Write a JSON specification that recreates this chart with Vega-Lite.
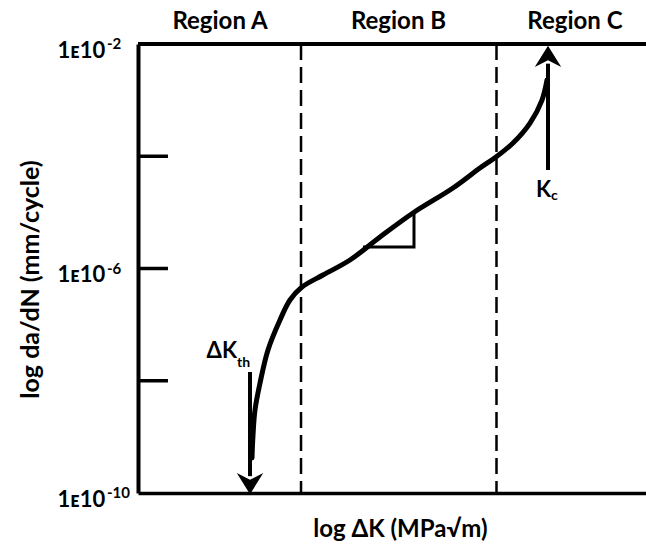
{
  "$schema": "https://vega.github.io/schema/vega-lite/v6.json",
  "width": 508,
  "height": 449,
  "autosize": "none",
  "padding": {"left": 138, "top": 44, "right": 0, "bottom": 51},
  "background": "white",
  "config": {"view": {"stroke": null}, "font": "Lato"},
  "datasets": {
    "curve": [
      {"logK": 2.244, "logRate": -9.376},
      {"logK": 2.264, "logRate": -8.967},
      {"logK": 2.303, "logRate": -8.521},
      {"logK": 2.402, "logRate": -8.040},
      {"logK": 2.559, "logRate": -7.452},
      {"logK": 2.795, "logRate": -6.918},
      {"logK": 2.992, "logRate": -6.561},
      {"logK": 3.228, "logRate": -6.330},
      {"logK": 3.642, "logRate": -6.116},
      {"logK": 4.173, "logRate": -5.849},
      {"logK": 4.764, "logRate": -5.439},
      {"logK": 5.413, "logRate": -5.011},
      {"logK": 6.201, "logRate": -4.566},
      {"logK": 6.732, "logRate": -4.209},
      {"logK": 7.047, "logRate": -4.013},
      {"logK": 7.382, "logRate": -3.764},
      {"logK": 7.717, "logRate": -3.408},
      {"logK": 7.953, "logRate": -2.998},
      {"logK": 8.051, "logRate": -2.641}
    ],
    "bounds": [{"logK": 3.209}, {"logK": 7.057}],
    "ticks": [{"logRate": -4}, {"logRate": -6}, {"logRate": -8}],
    "exponents": [
      {"logRate": -2, "sup": "-2"},
      {"logRate": -6, "sup": "-6"},
      {"logRate": -10, "sup": "-10"}
    ],
    "slope": [
      {"step": 1, "logK": 4.429, "logRate": -5.617},
      {"step": 2, "logK": 5.433, "logRate": -5.617},
      {"step": 3, "logK": 5.433, "logRate": -5.011}
    ],
    "shafts": [
      {"logK": 2.205, "from": -7.844, "to": -9.70},
      {"logK": 8.071, "from": -4.245, "to": -2.35}
    ],
    "downHead": [{"logK": 2.205, "logRate": -9.786}],
    "upHead": [{"logK": 8.071, "logRate": -2.267}],
    "regions": [
      {"label": "Region A", "logK": 1.614},
      {"label": "Region B", "logK": 5.128},
      {"label": "Region C", "logK": 8.602}
    ],
    "mainLabels": [
      {"label": "ΔK", "logK": 1.949, "logRate": -7.470},
      {"label": "K", "logK": 8.130, "logRate": -4.601}
    ],
    "subLabels": [
      {"label": "th", "logK": 1.949, "logRate": -7.684},
      {"label": "c", "logK": 8.130, "logRate": -4.708}
    ]
  },
  "layer": [
    {
      "data": {"name": "curve"},
      "mark": {"type": "line", "color": "black", "strokeWidth": 5, "strokeCap": "round", "interpolate": "catmull-rom"},
      "encoding": {
        "x": {
          "field": "logK", "type": "quantitative",
          "scale": {"domain": [0, 10], "nice": false, "zero": false},
          "axis": {
            "title": "log ΔK (MPa√m)", "labels": false, "ticks": false, "grid": false,
            "domainColor": "black", "domainWidth": 3.5,
            "titleFont": "Lato", "titleFontSize": 24, "titleFontWeight": "bold", "titleColor": "black",
            "titleX": 262, "titleY": 36, "titleBaseline": "middle", "titleAlign": "center"
          }
        },
        "y": {
          "field": "logRate", "type": "quantitative",
          "scale": {"domain": [-10, -2], "nice": false, "zero": false},
          "axis": {
            "title": "log da/dN (mm/cycle)", "values": [-2, -6, -10], "ticks": false, "tickSize": 0, "grid": false,
            "labelExpr": "'1ᴇ10'",
            "labelFont": "Lato", "labelFontSize": 22, "labelFontWeight": "bold", "labelColor": "black",
            "labelPadding": 81, "labelOffset": 6, "labelBaseline": "middle", "labelAlign": "left", "labelFlush": false,
            "domainColor": "black", "domainWidth": 4,
            "titleFont": "Lato", "titleFontSize": 25, "titleFontWeight": "bold", "titleColor": "black",
            "titleAngle": -90, "titleX": -108, "titleY": 235, "titleBaseline": "middle", "titleAlign": "center"
          }
        }
      }
    },
    {
      "data": {"name": "exponents"},
      "mark": {"type": "text", "font": "Lato", "fontSize": 15, "fontWeight": "bold", "color": "black", "align": "left", "baseline": "middle", "dy": 0},
      "encoding": {
        "x": {"datum": -0.61, "type": "quantitative"},
        "y": {"field": "logRate", "type": "quantitative"},
        "text": {"field": "sup"}
      }
    },
    {
      "data": {"name": "bounds"},
      "mark": {"type": "rule", "color": "black", "strokeWidth": 2.5, "strokeDash": [16, 7]},
      "encoding": {"x": {"field": "logK", "type": "quantitative"}}
    },
    {
      "data": {"values": [{}]},
      "mark": {"type": "rule", "color": "black", "strokeWidth": 4},
      "encoding": {"y": {"datum": -2, "type": "quantitative"}}
    },
    {
      "data": {"name": "ticks"},
      "mark": {"type": "rule", "color": "black", "strokeWidth": 3.5},
      "encoding": {
        "y": {"field": "logRate", "type": "quantitative"},
        "x": {"datum": 0, "type": "quantitative"},
        "x2": {"datum": 0.59}
      }
    },
    {
      "data": {"name": "slope"},
      "mark": {"type": "line", "color": "black", "strokeWidth": 3},
      "encoding": {
        "x": {"field": "logK", "type": "quantitative"},
        "y": {"field": "logRate", "type": "quantitative"},
        "order": {"field": "step"}
      }
    },
    {
      "data": {"name": "shafts"},
      "mark": {"type": "rule", "color": "black", "strokeWidth": 4},
      "encoding": {
        "x": {"field": "logK", "type": "quantitative"},
        "y": {"field": "from", "type": "quantitative"},
        "y2": {"field": "to"}
      }
    },
    {
      "data": {"name": "downHead"},
      "mark": {"type": "point", "filled": true, "color": "black", "opacity": 1, "strokeWidth": 0, "size": 700, "shape": "M0,1 L-1,-0.6 L0,-0.1 L1,-0.6 Z"},
      "encoding": {
        "x": {"field": "logK", "type": "quantitative"},
        "y": {"field": "logRate", "type": "quantitative"}
      }
    },
    {
      "data": {"name": "upHead"},
      "mark": {"type": "point", "filled": true, "color": "black", "opacity": 1, "strokeWidth": 0, "size": 700, "shape": "M0,-1 L-1,0.6 L0,0.1 L1,0.6 Z"},
      "encoding": {
        "x": {"field": "logK", "type": "quantitative"},
        "y": {"field": "logRate", "type": "quantitative"}
      }
    },
    {
      "data": {"name": "regions"},
      "mark": {"type": "text", "font": "Lato", "fontSize": 24, "fontWeight": "bold", "color": "black", "align": "center", "baseline": "middle"},
      "encoding": {
        "x": {"field": "logK", "type": "quantitative"},
        "y": {"datum": -1.608, "type": "quantitative"},
        "text": {"field": "label"}
      }
    },
    {
      "data": {"name": "mainLabels"},
      "mark": {"type": "text", "font": "Lato", "fontSize": 22, "fontWeight": "bold", "color": "black", "align": "right", "baseline": "middle"},
      "encoding": {
        "x": {"field": "logK", "type": "quantitative"},
        "y": {"field": "logRate", "type": "quantitative"},
        "text": {"field": "label"}
      }
    },
    {
      "data": {"name": "subLabels"},
      "mark": {"type": "text", "font": "Lato", "fontSize": 14, "fontWeight": "bold", "color": "black", "align": "left", "baseline": "middle"},
      "encoding": {
        "x": {"field": "logK", "type": "quantitative"},
        "y": {"field": "logRate", "type": "quantitative"},
        "text": {"field": "label"}
      }
    }
  ]
}
